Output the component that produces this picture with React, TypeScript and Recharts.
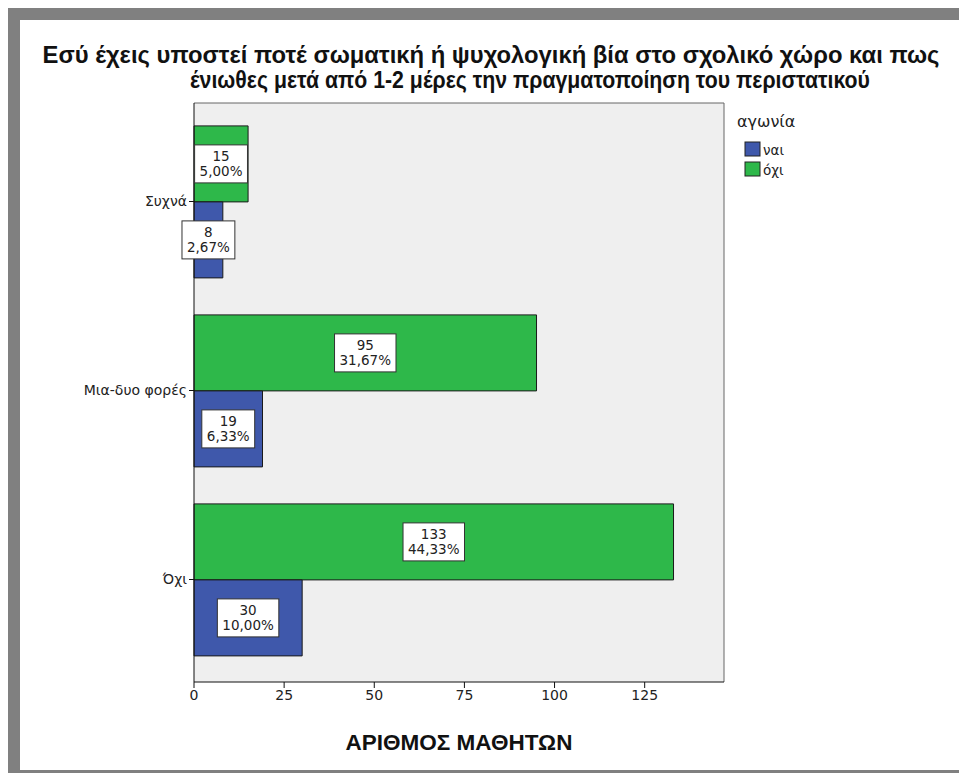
import { Bar, BarChart, CartesianGrid, LabelList, XAxis, YAxis } from "recharts";

const categories = ["Συχνά", "Μια-δυο φορές", "Όχι"];
const naiValues = [8, 19, 30];
const oxiValues = [15, 95, 133];
const xTicks = [0, 25, 50, 75, 100, 125];

const titleLines = [
  "Εσύ έχεις υποστεί ποτέ σωματική ή ψυχολογική βία στο σχολικό χώρο και πως",
  "ένιωθες μετά από 1-2 μέρες την πραγματοποίηση του περιστατικού",
];

const total = [...naiValues, ...oxiValues].reduce((a, b) => a + b, 0);

const data = categories.map((category, i) => ({
  category,
  nai: naiValues[i],
  oxi: oxiValues[i],
}));

const boldFont = "'Liberation Sans', Arial, sans-serif";
const font = "'DejaVu Sans', Verdana, sans-serif";
const blue = "#3f58ab";
const green = "#2eb84a";

// rough DejaVu Sans widths, enough to size the white boxes
function textWidth(s: string, size: number) {
  let w = 0;
  for (const ch of s) {
    if (ch === ",") w += 0.318;
    else if (ch === "%") w += 0.95;
    else w += 0.636;
  }
  return w * size;
}

function BoxLabel(props: any) {
  const x = Number(props.x);
  const y = Number(props.y);
  const width = Number(props.width);
  const height = Number(props.height);
  const value = Number(props.value);
  const pct = ((value / total) * 100).toFixed(2).replace(".", ",") + "%";
  const cx = x + width / 2;
  const cy = y + height / 2;
  const w = Math.max(textWidth(String(value), 13.5), textWidth(pct, 13.5)) + 10;
  const h = 38;
  return (
    <g>
      <rect x={cx - w / 2} y={cy - h / 2} width={w} height={h} fill="#fff" stroke="#333" strokeWidth={1} />
      <text x={cx} y={cy - 3} textAnchor="middle" fontSize={13.5} fontFamily={font} fill="#222">
        {value}
      </text>
      <text x={cx} y={cy + 12} textAnchor="middle" fontSize={13.5} fontFamily={font} fill="#222">
        {pct}
      </text>
    </g>
  );
}

export default function App() {
  return (
    <div style={{ position: "relative", width: 967, height: 781, margin: -8, background: "#fff", overflow: "hidden" }}>
      <div style={{ position: "absolute", left: 8, top: 8, width: 959, height: 773, background: "#808080" }} />
      <div style={{ position: "absolute", left: 20, top: 20, width: 942, height: 750, background: "#fff" }}>
        <BarChart
          width={942}
          height={750}
          data={data}
          layout="vertical"
          margin={{ top: 83, right: 238, bottom: 38, left: 0 }}
          barCategoryGap="10%"
          barGap={0}
          style={{ fontFamily: font }}
        >
          <CartesianGrid
            fill="#efefef"
            stroke="#666"
            horizontalCoordinatesGenerator={({ offset }: any) => [offset.top]}
            verticalCoordinatesGenerator={({ offset }: any) => [offset.left + offset.width]}
          />
          <XAxis
            type="number"
            domain={[0, 147]}
            ticks={xTicks}
            height={50}
            tickSize={6}
            axisLine={{ stroke: "#111" }}
            tickLine={{ stroke: "#111" }}
            tick={{ fill: "#222", fontSize: 14, fontFamily: font }}
            label={{
              value: "ΑΡΙΘΜΟΣ ΜΑΘΗΤΩΝ",
              position: "bottom",
              offset: 2,
              fill: "#111",
              fontSize: 22.5,
              fontWeight: "bold",
              fontFamily: boldFont,
            }}
          />
          <YAxis
            type="category"
            dataKey="category"
            width={174}
            tickSize={5}
            padding={{ top: 4, bottom: 8 }}
            axisLine={{ stroke: "#111" }}
            tickLine={{ stroke: "#111" }}
            tick={{ fill: "#222", fontSize: 14, fontFamily: font }}
          />
          <Bar dataKey="oxi" fill={green} stroke="#1a1a1a" strokeWidth={1} isAnimationActive={false}>
            <LabelList dataKey="oxi" content={BoxLabel} />
          </Bar>
          <Bar dataKey="nai" fill={blue} stroke="#1a1a1a" strokeWidth={1} isAnimationActive={false}>
            <LabelList dataKey="nai" content={BoxLabel} />
          </Bar>
        </BarChart>
      </div>
      <svg
        width={967}
        height={781}
        style={{ position: "absolute", left: 0, top: 0, pointerEvents: "none", fontFamily: font }}
      >
        <text x={491} y={63} textAnchor="middle" fontSize={23} fontWeight="bold" fontFamily={boldFont} fill="#111" textLength={897} lengthAdjust="spacingAndGlyphs">
          {titleLines[0]}
        </text>
        <text x={530} y={88} textAnchor="middle" fontSize={23} fontWeight="bold" fontFamily={boldFont} fill="#111" textLength={680} lengthAdjust="spacingAndGlyphs">
          {titleLines[1]}
        </text>
        <text x={737} y={127} fontSize={16} fill="#222">αγωνία</text>
        <rect x={745} y={142} width={15} height={14} fill={blue} stroke="#222" />
        <text x={763} y={155} fontSize={13.5} fill="#222">ναι</text>
        <rect x={745} y={162} width={15} height={14} fill={green} stroke="#222" />
        <text x={763} y={175} fontSize={13.5} fill="#222">όχι</text>
      </svg>
    </div>
  );
}
